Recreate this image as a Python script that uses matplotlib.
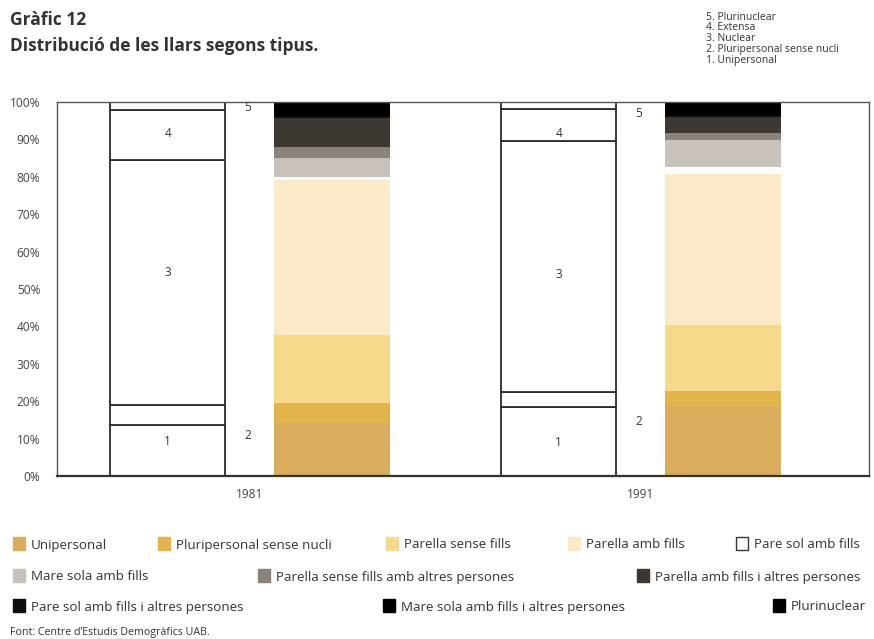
import numpy as np
import matplotlib
matplotlib.use('Agg')
import matplotlib.pyplot as plt
from matplotlib.patches import Rectangle

plt.rcParams['font.family'] = ['Open Sans', 'DejaVu Sans']

W, H = 874, 639

years = ['1981', '1991']

# detailed household types (coloured bar)
categories = ['Unipersonal', 'Pluripersonal sense nucli', 'Parella sense fills',
              'Parella amb fills', 'Pare sol amb fills', 'Mare sola amb fills',
              'Parella sense fills amb altres persones',
              'Parella amb fills i altres persones',
              'Pare sol amb fills i altres persones',
              'Mare sola amb fills i altres persones', 'Plurinuclear']
vals_1981 = [14.2, 5.2, 18.2, 41.5, 0.9, 5.0, 3.0, 7.8, 0.4, 1.7, 2.1]
vals_1991 = [18.6, 4.1, 17.7, 40.3, 2.0, 7.1, 1.8, 4.5, 0.3, 1.6, 2.0]
colors = ['#d9ad5c', '#e3b44c', '#f6d98a', '#fbeac8', '#ffffff', '#c9c1bb',
          '#8b827c', '#3e3832', '#0d0d0d', '#000000', '#000000']

# grouped types (outlined bar)
group_names = ['5. Plurinuclear', '4. Extensa', '3. Nuclear',
               '2. Pluripersonal sense nucli', '1. Unipersonal']
groups_1981 = [13.6, 5.4, 65.5, 13.4, 2.1]
groups_1991 = [18.4, 4.1, 67.1, 8.4, 2.0]
group_labels = ['1', '2', '3', '4', '5']

# where the small group numbers sit (in %)
lab_y_1981 = [9.2, 10.9, 54.3, 91.7, 98.4]
lab_y_1991 = [8.9, 14.7, 54.0, 91.7, 96.8]

fig = plt.figure(figsize=(W / 100, H / 100), dpi=100)
ax = fig.add_axes([57 / W, 1 - 476 / H, (869 - 57) / W, (476 - 102) / H])

x = np.arange(len(years))
off = 0.21
bw = 0.295

# outlined bars
for i, g in enumerate([groups_1981, groups_1991]):
    bottom = 0
    for v in g:
        ax.bar(x[i] - off, v, bw, bottom=bottom, facecolor='white',
               edgecolor='#2b2b2b', linewidth=1.3, zorder=2)
        bottom += v

# coloured bars
for i, vals in enumerate([vals_1981, vals_1991]):
    bottom = 0
    for v, c in zip(vals, colors):
        ax.bar(x[i] + off, v, bw, bottom=bottom, color=c,
               edgecolor='none', zorder=2)
        bottom += v

# group numbers
for i, ly in enumerate([lab_y_1981, lab_y_1991]):
    for lab, yy in zip(group_labels, ly):
        if lab in ('2', '5'):
            xx = x[i] - 0.005
        else:
            xx = x[i] - off
        ax.text(xx, yy, lab, ha='center', va='center', fontsize=8.5,
                color='#333333', zorder=3)

ax.set_ylim(0, 100)
ax.set_xlim(-0.4927, 1.583)
ax.set_yticks(np.arange(0, 101, 10))
ax.set_yticklabels(['%d%%' % t for t in range(0, 101, 10)])
ax.set_xticks(x)
ax.set_xticklabels(years)
ax.tick_params(length=0, labelsize=8.6, colors='#444444')
ax.tick_params(axis='y', pad=12)
ax.tick_params(axis='x', pad=9)
for s in ax.spines.values():
    s.set_color('#555555')
    s.set_linewidth(1.0)
ax.spines['bottom'].set_color('#333333')
ax.spines['bottom'].set_linewidth(1.6)

# titles
fig.text(10 / W, 1 - 20 / H, 'Gràfic 12', fontsize=12.5, fontweight='bold',
         color='#333333', va='center')
fig.text(10 / W, 1 - 46 / H, 'Distribució de les llars segons tipus.',
         fontsize=12.5, fontweight='bold', color='#333333', va='center')

# group key top right
for k, name in enumerate(group_names):
    fig.text(706 / W, 1 - (17 + k * 10.8) / H, name, fontsize=7.5,
             color='#333333', va='center')

# legend of detailed types
leg_pos = [(13, 543), (158, 543), (386, 543), (568, 543), (736, 543),
           (13, 575), (258, 575), (637, 575),
           (13, 605), (383, 605), (773, 605)]
for (px, py), name, c in zip(leg_pos, categories, colors):
    ec = '#333333' if c == '#ffffff' else c
    fig.add_artist(Rectangle((px / W, 1 - (py + 7) / H), 12 / W, 13 / H,
                             transform=fig.transFigure, facecolor=c,
                             edgecolor=ec, linewidth=1.0))
    fig.text((px + 18) / W, 1 - (py + 2) / H, name, fontsize=9.6,
             color='#333333', va='center')

fig.text(10 / W, 1 - 632 / H, 'Font: Centre d\u2019Estudis Demogràfics UAB.',
         fontsize=7.7, color='#333333', va='center')

fig.savefig('out.png', dpi=100)
